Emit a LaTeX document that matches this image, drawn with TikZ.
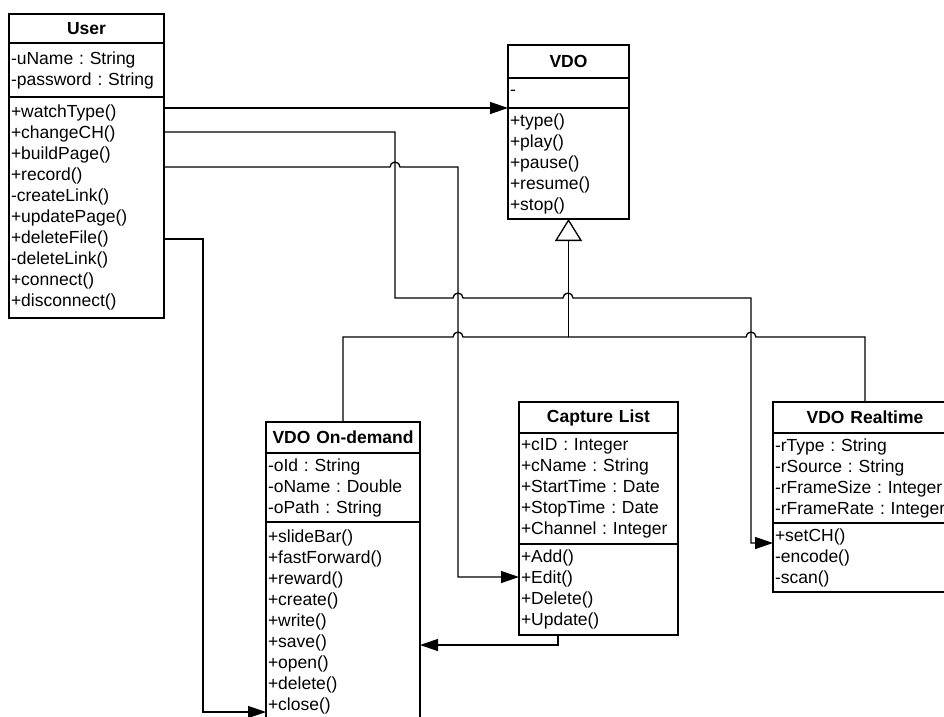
\documentclass[tikz,border=0pt]{standalone}
\usepackage{fontspec}
\setmainfont{Liberation Sans}
\usetikzlibrary{arrows.meta, positioning, calc}
\frenchspacing

\begin{document}
\begin{tikzpicture}[
    x=1pt, y=-1pt,
    every node/.style={font=\fontsize{17.5}{21}\selectfont, inner xsep=2pt, inner ysep=0pt, outer sep=0pt},
    ctitle/.style={rectangle, draw, line width=1.3pt, text width=#1, align=center, font=\fontsize{17.5}{21}\selectfont\bfseries},
    cpart/.style={rectangle, draw, line width=1.3pt, text width=#1, align=left},
    arr/.style={-{Triangle[length=18pt, width=12pt]}, line width=1.3pt},
    link/.style={line width=1.3pt},
    inh/.style={{Triangle[open, length=22pt, width=27pt]}-, line width=1.3pt},
    hop/.style={insert path={arc[start angle=180, end angle=0, radius=5pt]}}
]
    \path[use as bounding box] (0,0) rectangle (944,716);
    \clip (0,0) rectangle (944,716);

    % User
    \node[ctitle=151pt, minimum height=29pt, anchor=north west] (userT) at (9,14) {User};
    \node[cpart=151pt, minimum height=54pt, below=0pt of userT] (userA) {-uName : String\\-password : String};
    \node[cpart=151pt, minimum height=221pt, below=0pt of userA] (userM) {+watchType()\\+changeCH()\\+buildPage()\\+record()\\-createLink()\\+updatePage()\\+deleteFile()\\-deleteLink()\\+connect()\\+disconnect()};

    % VDO
    \node[ctitle=117pt, minimum height=33pt, anchor=north west] (vdoT) at (508,45) {VDO};
    \node[cpart=117pt, minimum height=30pt, below=0pt of vdoT] (vdoA) {-};
    \node[cpart=117pt, minimum height=111pt, below=0pt of vdoA] (vdoM) {+type()\\+play()\\+pause()\\+resume()\\+stop()};

    % VDO On-demand
    \node[ctitle=150pt, minimum height=31pt, anchor=north west] (odT) at (266,422) {VDO On-demand};
    \node[cpart=150pt, minimum height=69pt, below=0pt of odT] (odA) {-oId : String\\-oName : Double\\-oPath : String};
    \node[cpart=150pt, minimum height=200pt, below=0pt of odA] (odM) {+slideBar()\\+fastForward()\\+reward()\\+create()\\+write()\\+save()\\+open()\\+delete()\\+close()};

    % Capture List
    \node[ctitle=155pt, minimum height=31pt, anchor=north west] (capT) at (519,402) {Capture List};
    \node[cpart=155pt, minimum height=111pt, below=0pt of capT] (capA) {+cID : Integer\\+cName : String\\+StartTime : Date\\+StopTime : Date\\+Channel : Integer};
    \node[cpart=155pt, minimum height=91pt, below=0pt of capA] (capM) {+Add()\\+Edit()\\+Delete()\\+Update()};

    % VDO Realtime
    \node[ctitle=180pt, minimum height=31pt, anchor=north west] (rtT) at (773,402) {VDO Realtime};
    \node[cpart=180pt, minimum height=90pt, below=0pt of rtT] (rtA) {-rType : String\\-rSource : String\\-rFrameSize : Integer\\-rFrameRate : Integer};
    \node[cpart=180pt, minimum height=69pt, below=0pt of rtA] (rtM) {+setCH()\\-encode()\\-scan()};

    % generalization
    \draw[link] (odT.north) -- (343,337) -- (453,337) [hop] -- (746,337) [hop] -- ($(rtT.north)+(0,-65)$) -- (rtT.north);
    \draw[inh] (vdoM.south) -- ($(vdoM.south)+(0,118)$);

    % associations
    \draw[arr] (userM.east |- vdoM.north west) -- (vdoM.north west);
    \draw[arr] ($(userM.north east)+(0,35)$) -- (395,132) -- (395,298) -- (453,298) [hop] -- (563,298) [hop]
        -- (751,298) -- (751,543) -- ($(rtM.north west)+(0,20)$);
    \draw[arr] ($(userM.north east)+(0,70)$) -- (390,167) [hop] -- (458,167) -- (458,577) -- ($(capM.north west)+(0,33)$);
    \draw[arr] ($(userM.north east)+(0,142)$) -- (203,239) -- (203,712) -- ($(odM.north west)+(0,190)$);
    \draw[arr] ($(capM.south west)+(39,0)$) -- (558,645) -- ($(odM.north east)+(0,123)$);
\end{tikzpicture}
\end{document}
